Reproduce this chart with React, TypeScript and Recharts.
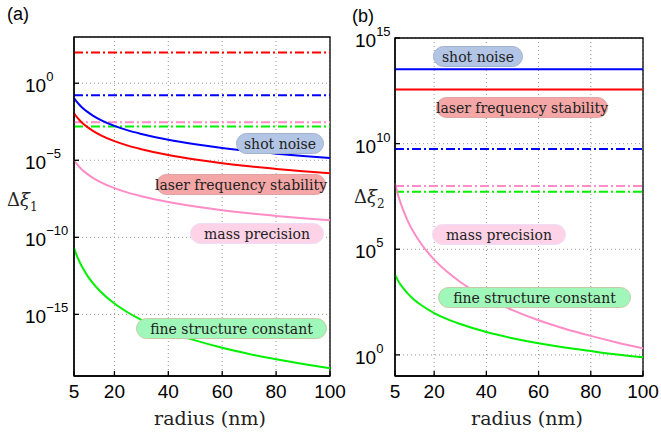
import { LineChart, Line, XAxis, YAxis, CartesianGrid, ReferenceArea } from "recharts";

const radius = [5, 6, 7, 8, 10, 12, 15, 20, 25, 30, 40, 50, 60, 70, 80, 90, 100];
const radiusTicks = [5, 20, 40, 60, 80, 100];

// panel (a): log10 of Δξ1
const shotNoiseA = [-0.96, -1.2, -1.4, -1.57, -1.86, -2.1, -2.39, -2.77, -3.06, -3.29, -3.67, -3.96, -4.2, -4.4, -4.57, -4.73, -4.86];
const laserA = [-1.95, -2.19, -2.39, -2.56, -2.85, -3.09, -3.38, -3.76, -4.05, -4.28, -4.66, -4.95, -5.19, -5.39, -5.56, -5.72, -5.85];
const massA = [-5.0, -5.24, -5.44, -5.61, -5.9, -6.14, -6.43, -6.81, -7.1, -7.33, -7.71, -8.0, -8.24, -8.44, -8.61, -8.77, -8.9];
const fineA = [-10.69, -11.17, -11.57, -11.91, -12.5, -12.97, -13.55, -14.3, -14.88, -15.36, -16.11, -16.69, -17.17, -17.57, -17.91, -18.22, -18.5];
// dash-dot levels (log10) in (a)
const levelLaserA = 2.0;
const levelShotA = -0.78;
const levelMassA = -2.53;
const levelFineA = -2.81;
const ticksA = [1e-15, 1e-10, 1e-5, 1e0];

// panel (b): log10 of Δξ2
const shotNoiseB = 13.52;
const laserB = 12.56;
const massB = [8.12, 7.64, 7.24, 6.9, 6.31, 5.84, 5.26, 4.51, 3.93, 3.45, 2.7, 2.12, 1.64, 1.24, 0.9, 0.59, 0.31];
const fineB = [3.79, 3.55, 3.35, 3.18, 2.89, 2.65, 2.36, 1.98, 1.69, 1.46, 1.08, 0.79, 0.55, 0.35, 0.18, 0.02, -0.11];
const levelShotB = 9.74;
const levelMassB = 7.99;
const levelFineB = 7.72;
const ticksB = [1e0, 1e5, 1e10, 1e15];

const BLUE = "#0000ff";
const RED = "#ff0000";
const GREEN = "#00f000";
const PINK = "#ff8cc6";
const DASHDOT = "9 3 2 3";
const SANS = "'Liberation Sans', Arial, sans-serif";
const SERIF = "'DejaVu Serif', serif";

const dataA = radius.map((r, i) => ({
  r,
  shot: 10 ** shotNoiseA[i],
  laser: 10 ** laserA[i],
  mass: 10 ** massA[i],
  fine: 10 ** fineA[i],
  lvLaser: 10 ** levelLaserA,
  lvShot: 10 ** levelShotA,
  lvMass: 10 ** levelMassA,
  lvFine: 10 ** levelFineA,
}));

const dataB = radius.map((r, i) => ({
  r,
  shot: 10 ** shotNoiseB,
  laser: 10 ** laserB,
  mass: 10 ** massB[i],
  fine: 10 ** fineB[i],
  lvShot: 10 ** levelShotB,
  lvMass: 10 ** levelMassB,
  lvFine: 10 ** levelFineB,
}));

function PowTick(props: any) {
  const { x, y, payload } = props;
  const e = Math.round(Math.log10(payload.value));
  return (
    <text x={x} y={y} textAnchor="start" fontFamily={SANS} fontSize={19} fill="#000">
      <tspan dy={9}>10</tspan>
      <tspan dy={-11} fontSize={13}>{e < 0 ? "\u2212" + -e : String(e)}</tspan>
    </text>
  );
}

function Tag({ left, top, width, bg, border, text }: any) {
  return (
    <div
      style={{
        position: "absolute",
        left,
        top,
        width,
        height: 21,
        boxSizing: "border-box",
        borderRadius: 11,
        background: bg,
        border: `1.5px solid ${border}`,
        display: "flex",
        alignItems: "center",
        justifyContent: "center",
        fontFamily: SERIF,
        fontSize: 14,
        color: "#222",
        whiteSpace: "nowrap",
      }}
    >
      {text}
    </div>
  );
}

const lineStyle = { stroke: "#000", strokeWidth: 1.3 };

function Frame({ domain, ticks, tickMargin }: any) {
  return [
    <CartesianGrid key="grid" strokeDasharray="1 3" stroke="#999" strokeWidth={1} />,
    <XAxis
      key="xb"
      dataKey="r"
      type="number"
      domain={[5, 100]}
      ticks={radiusTicks}
      height={59}
      tickSize={-5}
      tickMargin={14}
      axisLine={lineStyle}
      tickLine={lineStyle}
      tick={{ fontFamily: SANS, fontSize: 19, fill: "#000" }}
      label={{ value: "radius (nm)", position: "insideBottom", offset: 10, dx: 8, fontFamily: SERIF, fontSize: 19, fill: "#222" }}
    />,
    <XAxis
      key="xt"
      xAxisId="top"
      orientation="top"
      dataKey="r"
      type="number"
      domain={[5, 100]}
      ticks={radiusTicks}
      height={0}
      tickSize={-5}
      axisLine={lineStyle}
      tickLine={lineStyle}
      tick={false}
    />,
    <YAxis
      key="yl"
      scale="log"
      type="number"
      domain={domain}
      ticks={ticks}
      width={tickMargin + 20}
      tickSize={-5}
      tickMargin={tickMargin}
      axisLine={lineStyle}
      tickLine={lineStyle}
      tick={<PowTick />}
      allowDataOverflow
    />,
    <YAxis
      key="yr"
      yAxisId="right"
      orientation="right"
      scale="log"
      type="number"
      domain={domain}
      ticks={ticks}
      width={0}
      tickSize={-5}
      axisLine={lineStyle}
      tickLine={lineStyle}
      tick={false}
      allowDataOverflow
    />,
    <ReferenceArea
      key="box"
      x1={5}
      x2={100}
      y1={domain[0]}
      y2={domain[1]}
      fill="none"
      stroke="#000"
      strokeWidth={1.3}
      ifOverflow="visible"
    />,
  ];
}

function Series({ dataKey, color, dashed }: any) {
  return (
    <Line
      key={dataKey}
      dataKey={dataKey}
      type="monotone"
      stroke={color}
      strokeWidth={2}
      strokeDasharray={dashed ? DASHDOT : undefined}
      dot={false}
      activeDot={false}
      isAnimationActive={false}
    />
  );
}

export default function App() {
  return (
    <div style={{ position: "absolute", left: 0, top: 0, width: 661, height: 435, background: "#fff", overflow: "hidden" }}>
      <div style={{ position: "absolute", left: 0, top: 0 }}>
        <LineChart width={350} height={435} data={dataA} margin={{ top: 37, right: 20, left: 0, bottom: 0 }}>
          {Frame({ domain: [1e-19, 1e3], ticks: ticksA, tickMargin: 54 })}
          {Series({ dataKey: "lvLaser", color: RED, dashed: true })}
          {Series({ dataKey: "lvShot", color: BLUE, dashed: true })}
          {Series({ dataKey: "lvMass", color: PINK, dashed: true })}
          {Series({ dataKey: "lvFine", color: GREEN, dashed: true })}
          {Series({ dataKey: "mass", color: PINK })}
          {Series({ dataKey: "fine", color: GREEN })}
          {Series({ dataKey: "laser", color: RED })}
          {Series({ dataKey: "shot", color: BLUE })}
        </LineChart>
      </div>
      <div style={{ position: "absolute", left: 330, top: 0 }}>
        <LineChart width={331} height={435} data={dataB} margin={{ top: 38, right: 18, left: 0, bottom: 0 }}>
          {Frame({ domain: [1e-1, 1e15], ticks: ticksB, tickMargin: 45 })}
          {Series({ dataKey: "lvShot", color: BLUE, dashed: true })}
          {Series({ dataKey: "lvMass", color: PINK, dashed: true })}
          {Series({ dataKey: "lvFine", color: GREEN, dashed: true })}
          {Series({ dataKey: "mass", color: PINK })}
          {Series({ dataKey: "fine", color: GREEN })}
          {Series({ dataKey: "laser", color: RED })}
          {Series({ dataKey: "shot", color: BLUE })}
        </LineChart>
      </div>

      <div style={{ position: "absolute", left: 7, top: 4, fontFamily: SANS, fontSize: 18 }}>(a)</div>
      <div style={{ position: "absolute", left: 352, top: 6, fontFamily: SANS, fontSize: 18 }}>(b)</div>
      <div style={{ position: "absolute", left: 7, top: 189, fontFamily: SERIF, fontSize: 18, color: "#222" }}>
        Δ<i>ξ</i><sub style={{ fontSize: 12 }}>1</sub>
      </div>
      <div style={{ position: "absolute", left: 354, top: 186, fontFamily: SERIF, fontSize: 18, color: "#222" }}>
        Δ<i>ξ</i><sub style={{ fontSize: 12 }}>2</sub>
      </div>

      <Tag left={236} top={133} width={88} bg="#b2c5e5" border="#a3b2cc" text="shot noise" />
      <Tag left={156} top={174} width={170} bg="#f5a6a6" border="#dfa3a3" text="laser frequency stability" />
      <Tag left={190} top={223} width={134} bg="#ffd3e7" border="#eedcf8" text="mass precision" />
      <Tag left={136} top={318} width={191} bg="#9ff7b9" border="#c5cba6" text="fine structure constant" />

      <Tag left={433} top={46} width={90} bg="#b2c5e5" border="#a3b2cc" text="shot noise" />
      <Tag left={436} top={97} width={172} bg="#f5a6a6" border="#dfa3a3" text="laser frequency stability" />
      <Tag left={432} top={224} width={134} bg="#ffd3e7" border="#eedcf8" text="mass precision" />
      <Tag left={438} top={287} width={193} bg="#9ff7b9" border="#c5cba6" text="fine structure constant" />
    </div>
  );
}
